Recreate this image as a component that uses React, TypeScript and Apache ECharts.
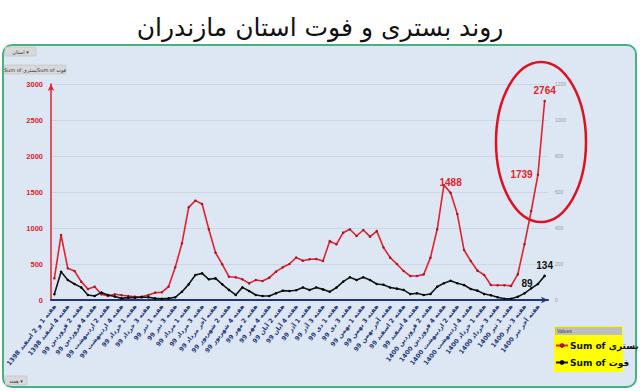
import React, { useEffect, useRef } from "react";
import * as echarts from "echarts";

const categories: string[] = [
  "هفته 1 و 2 اسفند 1398", "هفته 3 اسفند 1398", "هفته 4 اسفند 1398",
  "هفته 1 فروردین 99", "هفته 2 فروردین 99", "هفته 3 فروردین 99", "هفته 4 فروردین 99",
  "هفته 1 اردیبهشت 99", "هفته 2 اردیبهشت 99", "هفته 3 اردیبهشت 99", "هفته 4 اردیبهشت 99", "هفته آخر اردیبهشت 99",
  "هفته 1 خرداد 99", "هفته 2 خرداد 99", "هفته 3 خرداد 99", "هفته 4 خرداد 99",
  "هفته 1 تیر 99", "هفته 2 تیر 99", "هفته 3 تیر 99", "هفته 4 تیر 99",
  "هفته 1 مرداد 99", "هفته 2 مرداد 99", "هفته 3 مرداد 99", "هفته 4 مرداد 99", "هفته آخر مرداد 99",
  "هفته 1 شهریور 99", "هفته 2 شهریور 99", "هفته 3 شهریور 99", "هفته 4 شهریور 99",
  "هفته 1 مهر 99", "هفته 2 مهر 99", "هفته 3 مهر 99", "هفته 4 مهر 99",
  "هفته 1 آبان 99", "هفته 2 آبان 99", "هفته 3 آبان 99", "هفته 4 آبان 99", "هفته آخر آبان 99",
  "هفته 1 آذر 99", "هفته 2 آذر 99", "هفته 3 آذر 99", "هفته 4 آذر 99",
  "هفته 1 دی 99", "هفته 2 دی 99", "هفته 3 دی 99", "هفته 4 دی 99",
  "هفته 1 بهمن 99", "هفته 2 بهمن 99", "هفته 3 بهمن 99", "هفته 4 بهمن 99", "هفته آخر بهمن 99",
  "هفته 1 اسفند 99", "هفته 2 اسفند 99", "هفته 3 اسفند 99", "هفته 4 اسفند 99",
  "هفته 1 فروردین 1400", "هفته 2 فروردین 1400", "هفته 3 فروردین 1400", "هفته 4 فروردین 1400",
  "هفته 1 اردیبهشت 1400", "هفته 2 اردیبهشت 1400", "هفته 3 اردیبهشت 1400", "هفته 4 اردیبهشت 1400", "هفته آخر اردیبهشت 1400",
  "هفته 1 خرداد 1400", "هفته 2 خرداد 1400", "هفته 3 خرداد 1400", "هفته 4 خرداد 1400",
  "هفته 1 تیر 1400", "هفته 2 تیر 1400", "هفته 3 تیر 1400", "هفته 4 تیر 1400", "هفته آخر تیر 1400",
  "هفته 1 مرداد 1400",
];

// Sum of بستری (left axis)
const hospitalized: number[] = [
  301, 903, 440, 403, 255, 152, 185, 79, 56, 79,
  67, 56, 46, 46, 69, 102, 107, 185, 454, 787,
  1287, 1380, 1333, 982, 657, 495, 324, 315, 287, 231,
  278, 264, 310, 393, 454, 500, 590, 546, 565, 569,
  542, 819, 773, 935, 982, 889, 972, 880, 958, 731,
  588, 500, 403, 333, 333, 356, 588, 982, 1597, 1488,
  1194, 694, 542, 407, 347, 208, 204, 204, 196, 356,
  775, 1236, 1739, 2764,
];

// Sum of فوت (right axis)
const deaths: number[] = [
  32, 157, 111, 89, 70, 28, 22, 41, 28, 19,
  9, 13, 13, 15, 15, 9, 7, 9, 15, 46,
  87, 139, 148, 115, 120, 87, 56, 28, 70, 50,
  28, 22, 22, 37, 52, 50, 54, 70, 56, 70,
  59, 46, 69, 102, 126, 111, 126, 111, 89, 85,
  69, 63, 56, 33, 37, 28, 33, 74, 93, 107,
  93, 83, 61, 52, 33, 26, 15, 7, 7, 18,
  37, 65, 89, 134,
];

const leftTicks = { min: 0, max: 3000, interval: 500 };
const rightTicks = { min: 0, max: 1200, interval: 200 };

const redLabels: Record<number, string> = { 59: "top", 72: "left", 73: "top" };
const blackLabels: Record<number, string> = { 72: "left", 73: "top" };

const RED = "#e3202b";
const NAVY = "#1f3578";
const LATIN = "'Liberation Sans', Arial, sans-serif";
const FA = "'DejaVu Sans', sans-serif";

export default function App() {
  const ref = useRef<HTMLDivElement>(null);

  useEffect(() => {
    if (!ref.current) return;
    const chart = echarts.init(ref.current, null, { renderer: "svg" });

    const redData = hospitalized.map((v, i) =>
      redLabels[i]
        ? {
            value: v,
            label: {
              show: true,
              position: redLabels[i],
              distance: 4,
              color: RED,
              fontWeight: "bold",
              fontSize: 10,
              fontFamily: LATIN,
            },
          }
        : v
    );
    const blackData = deaths.map((v, i) =>
      blackLabels[i]
        ? {
            value: v,
            label: {
              show: true,
              position: blackLabels[i],
              distance: 4,
              color: "#111",
              fontWeight: "bold",
              fontSize: 10,
              fontFamily: LATIN,
            },
          }
        : v
    );

    const btn = (x: number, y: number, w: number, text: string) => ({
      type: "group",
      children: [
        {
          type: "rect",
          shape: { x, y, width: w, height: 9, r: 1 },
          style: { fill: "#d9d9d9", stroke: "#b5b5b5", lineWidth: 0.5 },
        },
        {
          type: "text",
          x: x + w / 2,
          y: y + 4.5,
          style: {
            text,
            fill: "#333",
            fontSize: 5,
            fontFamily: FA,
            align: "center",
            verticalAlign: "middle",
          },
        },
      ],
    });

    chart.setOption({
      animation: false,
      backgroundColor: "#ffffff",
      title: {
        text: "روند بستری و فوت استان مازندران",
        left: "center",
        top: 10,
        textStyle: {
          fontSize: 25,
          fontWeight: "normal",
          fontFamily: FA,
          color: "#111",
        },
      },
      graphic: [
        {
          type: "rect",
          z: -10,
          shape: { x: 3, y: 45, width: 633, height: 342, r: 9 },
          style: { fill: "#dde7f3", stroke: "#45b37c", lineWidth: 2 },
        },
        btn(5, 47, 31, "استان ▾"),
        btn(5, 65, 31, "Sum of بستری"),
        btn(37, 65, 29, "Sum of فوت"),
        btn(5, 376, 22, "هفته ▾"),
        {
          type: "rect",
          z: 1,
          shape: { x: 554, y: 326, width: 69, height: 46 },
          style: { fill: "#ffff00" },
        },
        {
          type: "rect",
          z: 2,
          shape: { x: 555, y: 327, width: 67, height: 8 },
          style: { fill: "#bfbfbf" },
        },
        {
          type: "text",
          z: 3,
          x: 557,
          y: 331,
          style: {
            text: "Values",
            fill: "#444",
            fontSize: 5,
            fontFamily: LATIN,
            verticalAlign: "middle",
          },
        },
        {
          type: "ellipse",
          z: 20,
          shape: { cx: 541, cy: 142, rx: 45, ry: 80 },
          style: { fill: "none", stroke: "#e01020", lineWidth: 2.5 },
        },
      ],
      legend: {
        orient: "vertical",
        left: 555,
        top: 341,
        itemGap: 8,
        itemWidth: 12,
        itemHeight: 6,
        padding: 0,
        textStyle: {
          fontSize: 9,
          fontWeight: "bold",
          color: "#111",
          fontFamily: FA,
          padding: [0, 0, 0, -3],
        },
        data: ["Sum of بستری", "Sum of فوت"],
      },
      grid: { left: 51, right: 92, top: 84, bottom: 91, containLabel: false },
      xAxis: {
        type: "category",
        data: categories,
        boundaryGap: true,
        axisLine: {
          show: true,
          lineStyle: { color: NAVY, width: 2 },
          symbol: ["none", "arrow"],
          symbolSize: [5, 7],
        },
        axisTick: { show: false },
        axisLabel: {
          interval: 1,
          rotate: 52,
          margin: 5,
          color: NAVY,
          fontWeight: "bold",
          fontSize: 6.3,
          fontFamily: FA,
        },
      },
      yAxis: [
        {
          type: "value",
          ...leftTicks,
          axisLine: {
            show: true,
            lineStyle: { color: RED, width: 1.5 },
            symbol: ["none", "arrow"],
            symbolSize: [5, 7],
          },
          axisTick: { show: false },
          axisLabel: {
            color: RED,
            fontWeight: "bold",
            fontSize: 7.5,
            fontFamily: LATIN,
            margin: 8,
            formatter: (v: number) => String(v),
          },
          splitLine: { lineStyle: { color: "#cbd6e6", width: 1 } },
        },
        {
          type: "value",
          position: "right",
          ...rightTicks,
          axisLine: { show: false },
          axisTick: { show: false },
          axisLabel: {
            color: "#9a9a9a",
            fontSize: 5,
            fontFamily: LATIN,
            margin: 7,
            formatter: (v: number) => String(v),
          },
          splitLine: { show: false },
        },
      ],
      series: [
        {
          name: "Sum of بستری",
          type: "line",
          yAxisIndex: 0,
          data: redData,
          symbol: "circle",
          symbolSize: 2.5,
          showAllSymbol: true,
          lineStyle: { color: RED, width: 1.6 },
          itemStyle: { color: "#9b1c2b" },
          z: 3,
        },
        {
          name: "Sum of فوت",
          type: "line",
          yAxisIndex: 1,
          data: blackData,
          symbol: "circle",
          symbolSize: 2.5,
          showAllSymbol: true,
          lineStyle: { color: "#151515", width: 1.6 },
          itemStyle: { color: "#000" },
          z: 4,
        },
      ],
    });

    return () => chart.dispose();
  }, []);

  return (
    <div
      ref={ref}
      style={{ position: "fixed", left: 0, top: 0, width: 640, height: 391 }}
    />
  );
}
